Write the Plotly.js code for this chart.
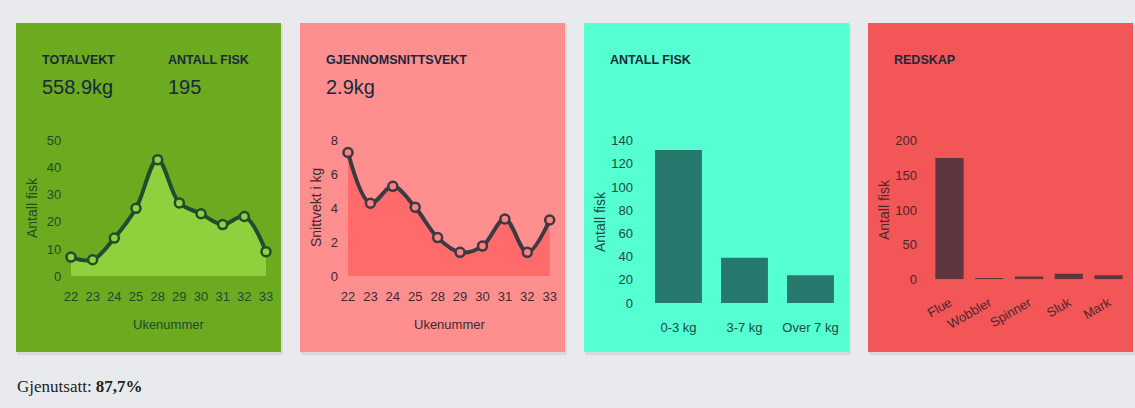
<!DOCTYPE html>
<html>
<head>
<meta charset="utf-8">
<script src="https://cdn.plot.ly/plotly-3.0.1.min.js"></script>
<style>
  html, body { margin: 0; padding: 0; background: #e8eaed; }
  #chart { width: 1135px; height: 408px; }
</style>
</head>
<body>
<div id="chart"></div>
<script>
// ---- data ----
const weeks = ['22', '23', '24', '25', '28', '29', '30', '31', '32', '33'];
const fishPerWeek = [7, 6, 14, 25, 43, 27, 23, 19, 22, 9];
const avgWeightPerWeek = [7.3, 4.3, 5.3, 4.06, 2.27, 1.4, 1.77, 3.37, 1.4, 3.31];
const weightClasses = ['0-3 kg', '3-7 kg', 'Over 7 kg'];
const fishPerClass = [132, 39, 24];
const gearTypes = ['Flue', 'Wobbler', 'Spinner', 'Sluk', 'Mark'];
const fishPerGear = [175, 2, 4, 8, 6];
const totalWeight = '558.9kg';
const totalFish = '195';
const avgWeight = '2.9kg';
const releasedShare = '87,7%';

// ---- layout helpers (pixel -> paper) ----
const W = 1135, H = 408;
const fx = p => p / W;
const fy = p => 1 - p / H;

const SANS = 'Liberation Sans, Arial, sans-serif';
const TITLE_C = '#18293a';

const panels = [
  {x0: 16, x1: 281, color: '#6cab20'},
  {x0: 300, x1: 565, color: '#ff8f8f'},
  {x0: 584, x1: 849, color: '#55ffd1'},
  {x0: 868, x1: 1133, color: '#f25656'}
];
const shapes = [];
panels.forEach(p => {
  shapes.push({type: 'rect', xref: 'paper', yref: 'paper', layer: 'below',
    x0: fx(p.x0 + 1), x1: fx(p.x1 + 2), y0: fy(23 + 2), y1: fy(352 + 3),
    fillcolor: 'rgba(0,0,0,0.07)', line: {width: 0}});
  shapes.push({type: 'rect', xref: 'paper', yref: 'paper', layer: 'below',
    x0: fx(p.x0), x1: fx(p.x1), y0: fy(23), y1: fy(352),
    fillcolor: p.color, line: {width: 0}});
});

function ann(text, x, y, opts) {
  return Object.assign({xref: 'paper', yref: 'paper', x: fx(x), y: fy(y), text: text,
    showarrow: false, xanchor: 'left', yanchor: 'middle'}, opts || {});
}
const hdr = (t, x) => ann('<b>' + t + '</b>', x, 60, {font: {family: SANS, size: 12.5, color: TITLE_C}});
const big = (t, x) => ann(t, x, 87, {font: {family: SANS, size: 20, color: TITLE_C}});

const annotations = [
  hdr('TOTALVEKT', 40), big(totalWeight, 40),
  hdr('ANTALL FISK', 166), big(totalFish, 166),
  hdr('GJENNOMSNITTSVEKT', 324), big(avgWeight, 324),
  hdr('ANTALL FISK', 608),
  hdr('REDSKAP', 892),
  // axis titles
  ann('Ukenummer', 168, 324, {xanchor: 'center', font: {family: SANS, size: 13, color: '#1f4a2a'}}),
  ann('Ukenummer', 449, 324, {xanchor: 'center', font: {family: SANS, size: 13, color: '#3a2a33'}}),
  ann('Antall fisk', 32, 208, {xanchor: 'center', textangle: -90, font: {family: SANS, size: 14, color: '#1f4a2a'}}),
  ann('Snittvekt i kg', 316, 208, {xanchor: 'center', textangle: -90, font: {family: SANS, size: 14, color: '#3a2a33'}}),
  ann('Antall fisk', 600, 222, {xanchor: 'center', textangle: -90, font: {family: SANS, size: 14, color: '#1d4a44'}}),
  ann('Antall fisk', 884, 210, {xanchor: 'center', textangle: -90, font: {family: SANS, size: 14, color: '#4a2630'}}),
  // footer
  ann('Gjenutsatt: <b>' + releasedShare + '</b>', 15, 386, {font: {family: 'Liberation Serif, DejaVu Serif, serif', size: 17, color: '#222'}})
];

const traces = [
  {type: 'scatter', x: weeks, y: fishPerWeek, xaxis: 'x', yaxis: 'y',
    mode: 'lines+markers', line: {shape: 'spline', smoothing: 1, color: '#1f4d2e', width: 4},
    fill: 'tozeroy', fillcolor: '#8fd13c',
    marker: {size: 9, color: '#8fd13c', line: {color: '#1f4d2e', width: 2.5}},
    cliponaxis: false, hoverinfo: 'x+y'},
  {type: 'scatter', x: weeks, y: avgWeightPerWeek, xaxis: 'x2', yaxis: 'y2',
    mode: 'lines+markers', line: {shape: 'spline', smoothing: 1, color: '#3b3a40', width: 4},
    fill: 'tozeroy', fillcolor: '#ff6b6b',
    marker: {size: 9, color: '#ff8080', line: {color: '#3b3a40', width: 2.5}},
    cliponaxis: false, hoverinfo: 'x+y'},
  {type: 'bar', x: weightClasses, y: fishPerClass, xaxis: 'x3', yaxis: 'y3',
    marker: {color: '#27796d'}, hoverinfo: 'x+y'},
  {type: 'bar', x: gearTypes, y: fishPerGear, xaxis: 'x4', yaxis: 'y4',
    marker: {color: '#5e3640'}, hoverinfo: 'x+y'}
];

function xax(anchor, d0, d1, n, color, ticklen, extra) {
  return Object.assign({anchor: anchor, domain: [fx(d0), fx(d1)], type: 'category', range: [-0.4, n - 1 + 0.4],
    showgrid: false, zeroline: false, showline: false,
    ticks: 'outside', ticklen: ticklen, tickcolor: 'rgba(0,0,0,0)',
    tickfont: {family: SANS, size: 13, color: color}, fixedrange: true}, extra || {});
}
function yax(anchor, top, bottom, range, dtick, color, ticklen) {
  return {anchor: anchor, domain: [fy(bottom), fy(top)], range: range, dtick: dtick,
    showgrid: false, zeroline: false, showline: false,
    ticks: ticklen ? 'outside' : '', ticklen: ticklen || 0, tickcolor: 'rgba(0,0,0,0)',
    tickfont: {family: SANS, size: 13, color: color}, fixedrange: true};
}

const layout = {
  width: W, height: H,
  margin: {l: 0, r: 0, t: 0, b: 0},
  paper_bgcolor: '#e8eaed', plot_bgcolor: 'rgba(0,0,0,0)',
  showlegend: false,
  bargap: 0.29,
  shapes: shapes,
  annotations: annotations,
  xaxis: xax('y', 71 - 0.4 * 21.67, 266 + 0.4 * 21.67, 10, '#1f4a2a', 8),
  yaxis: yax('x', 140.7, 276, [0, 50], 10, '#1f4a2a', 0),
  xaxis2: xax('y2', 348 - 0.4 * 22.4, 549.7 + 0.4 * 22.4, 10, '#3a2a33', 8),
  yaxis2: yax('x2', 140.7, 276, [0, 8], 2, '#3a2a33', 0),
  xaxis3: xax('y3', 645.5, 843.5, 3, '#1d4a44', 12, {range: [-0.5, 2.5]}),
  yaxis3: yax('x3', 140.7, 303, [0, 140], 20, '#1d4a44', 9),
  xaxis4: xax('y4', 929.6, 1128.4, 5, '#4a2630', 10, {range: [-0.5, 4.5], tickangle: -30}),
  yaxis4: yax('x4', 140.7, 279.3, [0, 200], 50, '#4a2630', 9)
};

Plotly.newPlot('chart', traces, layout, {displayModeBar: false, staticPlot: true});
</script>
</body>
</html>
